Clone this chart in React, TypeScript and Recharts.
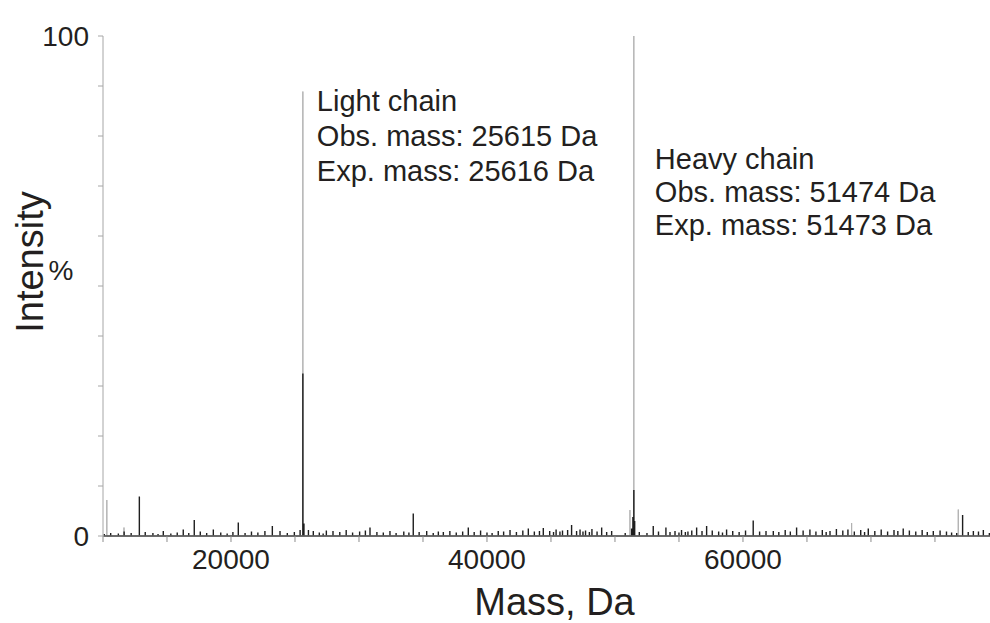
import React from 'react';
import { LineChart, Line, XAxis, YAxis, ReferenceDot, Label } from 'recharts';

// axis ticks (Da and %)
const xTicks = [10000, 15000, 20000, 25000, 30000, 35000, 40000, 45000, 50000, 55000, 60000, 65000, 70000, 75000];
const xTickLabels = [20000, 40000, 60000];
const yTicks = [0, 10, 20, 30, 40, 50, 60, 70, 80, 90, 100];
const yTickLabels = [0, 100];

// light grey sticks of the deconvoluted spectrum: [mass, intensity %]
const greyPeaks: [number, number][] = [
  [10300, 7.2],
  [11640, 1.7],
  [25615, 88.9],
  [51170, 5.2],
  [51474, 100],
  [68490, 2.6],
  [76820, 5.3],
];

// dark trace: baseline noise and the dense part of each peak
const blackPeaks: [number, number][] = [
  [10100, 0.4], [10600, 0.6], [11200, 0.5], [11650, 0.9], [12200, 0.6], [12840, 7.9],
  [13300, 0.8], [13900, 0.6], [14300, 0.4], [14710, 1.0], [15300, 0.5], [15800, 0.7],
  [16270, 1.3], [16700, 0.6], [17130, 3.2], [17600, 0.9], [18100, 0.6], [18620, 1.3],
  [19200, 0.7], [19700, 0.5], [20150, 0.8], [20570, 2.7], [21100, 0.6], [21600, 0.9],
  [22100, 0.7], [22650, 1.0], [23230, 2.0], [23830, 1.0], [24400, 0.6], [24950, 0.8],
  [25400, 1.2], [25615, 32.5], [25700, 2.5], [26050, 1.2], [26430, 1.0], [26900, 0.7],
  [27200, 0.5], [27450, 1.1], [27970, 1.0], [28500, 0.8], [29000, 1.2], [29500, 0.7],
  [30050, 0.9], [30500, 1.1], [30860, 1.7], [31400, 0.8], [31900, 0.7], [32420, 1.0],
  [32900, 0.6], [33500, 0.9], [33900, 0.7], [34240, 4.5], [34700, 0.8], [35290, 1.0],
  [35800, 0.6], [36200, 0.9], [36590, 0.8], [37100, 1.0], [37600, 0.7], [38100, 0.9],
  [38540, 1.7], [39000, 0.8], [39500, 1.1], [40000, 0.7], [40400, 0.6], [40880, 1.0],
  [41300, 0.9], [41800, 1.2], [42300, 0.8], [42800, 1.1], [43230, 1.5], [43700, 0.9],
  [44100, 1.0], [44400, 1.6], [44900, 1.0], [45200, 0.8], [45400, 1.3], [45700, 0.9],
  [45900, 1.1], [46300, 1.2], [46610, 2.2], [47000, 1.0], [47270, 1.3], [47500, 0.9],
  [47700, 1.1], [48000, 0.8], [48200, 1.4], [48600, 0.9], [48960, 1.7], [49350, 0.8],
  [49740, 1.0], [50800, 0.6], [51300, 1.5], [51400, 3.8], [51474, 9.2], [51540, 3.0],
  [51900, 0.8], [52500, 0.6], [52990, 2.0], [53400, 0.9], [53980, 1.7], [54300, 0.8],
  [54690, 1.0], [55000, 0.7], [55200, 1.2], [55500, 0.8], [55700, 0.9], [56000, 1.1],
  [56380, 1.7], [56800, 1.0], [57160, 2.0], [57600, 1.1], [58100, 0.9], [58400, 0.7],
  [58720, 1.3], [59200, 1.0], [59700, 0.8], [60200, 1.1], [60800, 3.1], [61300, 0.9],
  [61800, 1.0], [62370, 1.0], [62800, 0.8], [63300, 1.2], [63700, 0.9], [64190, 1.7],
  [64700, 1.1], [65230, 1.3], [65700, 0.9], [66200, 1.2], [66500, 0.8], [66800, 1.0],
  [67300, 1.4], [67800, 1.1], [68200, 1.3], [68700, 0.9], [69200, 1.2], [69500, 0.8],
  [69790, 1.5], [70300, 1.0], [70800, 1.3], [71300, 0.9], [71800, 1.2], [72100, 1.0],
  [72520, 1.5], [73000, 1.1], [73500, 0.9], [74000, 1.2], [74400, 0.8], [74870, 1.0],
  [75400, 1.1], [75900, 0.9], [76300, 0.7], [76700, 0.6], [77160, 4.2], [77600, 0.8],
  [78000, 1.0], [78400, 0.9], [78780, 1.2], [79250, 0.6],
];

const lightChainPeak = { mass: 25615, intensity: 88.9 };
const heavyChainPeak = { mass: 51474, intensity: 100 };
const lightChainText = ['Light chain', 'Obs. mass: 25615 Da', 'Exp. mass: 25616 Da'];
const heavyChainText = ['Heavy chain', 'Obs. mass: 51474 Da', 'Exp. mass: 51473 Da'];

const FONT = '"Liberation Sans", Arial, Helvetica, sans-serif';
const INK = '#231f20';

// each peak is drawn as a stick: baseline -> top -> baseline
const toSticks = (peaks: [number, number][]) =>
  peaks.flatMap(([mass, intensity]) => [
    { mass, intensity: 0 },
    { mass, intensity },
    { mass, intensity: 0 },
  ]);

const greyData = toSticks(greyPeaks);
const blackData = toSticks(blackPeaks);

const PeakNote = (props: any) => {
  const { viewBox, lines, dx, dy, lineHeight } = props;
  const cx = viewBox.x + viewBox.width / 2;
  const cy = viewBox.y + viewBox.height / 2;
  return (
    <text x={cx + dx} y={cy + dy} fill={INK} fontSize={29} fontFamily={FONT}>
      {lines.map((t: string, i: number) => (
        <tspan key={i} x={cx + dx} dy={i === 0 ? 0 : lineHeight}>
          {t}
        </tspan>
      ))}
    </text>
  );
};

const YTitle = (props: any) => {
  const { viewBox } = props;
  const x = viewBox.x;
  const y = viewBox.y;
  return (
    <g fill={INK} fontFamily={FONT}>
      <text
        x={x + 43}
        y={y + 226}
        fontSize={38}
        textAnchor="middle"
        transform={`rotate(-90, ${x + 43}, ${y + 226})`}
      >
        Intensity
      </text>
      <text x={x + 61} y={y + 244} fontSize={28} textAnchor="middle">
        %
      </text>
    </g>
  );
};

const XTitle = (props: any) => {
  const { viewBox } = props;
  return (
    <text
      x={viewBox.x + viewBox.width / 2 + 8}
      y={viewBox.y + 79}
      fill={INK}
      fontSize={38}
      fontFamily={FONT}
      textAnchor="middle"
    >
      Mass, Da
    </text>
  );
};

const App: React.FC = () => {
  return (
    <div style={{ position: 'absolute', left: 0, top: 0, background: '#ffffff' }}>
      <LineChart
        width={990}
        height={623}
        margin={{ top: 36, right: 0, bottom: 0, left: 0 }}
        style={{ fontFamily: FONT }}
      >
        <XAxis
          type="number"
          dataKey="mass"
          domain={[10000, 79300]}
          ticks={xTicks}
          interval={0}
          height={87}
          tickSize={6}
          tickMargin={7}
          stroke="#8c8c8c"
          tick={{ fill: INK, fontSize: 28, fontFamily: FONT }}
          tickFormatter={(v: number) => (xTickLabels.includes(v) ? String(v) : '')}
        >
          <Label content={<XTitle />} />
        </XAxis>
        <YAxis
          type="number"
          dataKey="intensity"
          domain={[0, 100]}
          ticks={yTicks}
          interval={0}
          width={103}
          tickSize={5}
          tickMargin={9}
          stroke="#a6a6a6"
          tick={{ fill: INK, fontSize: 28, fontFamily: FONT }}
          tickFormatter={(v: number) => (yTickLabels.includes(v) ? String(v) : '')}
        >
          <Label content={<YTitle />} />
        </YAxis>
        <Line
          data={greyData}
          dataKey="intensity"
          type="linear"
          stroke="#b0b0b0"
          strokeWidth={1}
          dot={false}
          activeDot={false}
          isAnimationActive={false}
        />
        <Line
          data={blackData}
          dataKey="intensity"
          type="linear"
          stroke="#1e1e1e"
          strokeWidth={1.4}
          dot={false}
          activeDot={false}
          isAnimationActive={false}
        />
        <ReferenceDot
          x={lightChainPeak.mass}
          y={lightChainPeak.intensity}
          r={1}
          fill="none"
          stroke="none"
          label={<PeakNote lines={lightChainText} dx={14} dy={19} lineHeight={35} />}
        />
        <ReferenceDot
          x={heavyChainPeak.mass}
          y={heavyChainPeak.intensity}
          r={1}
          fill="none"
          stroke="none"
          label={<PeakNote lines={heavyChainText} dx={21} dy={133} lineHeight={33} />}
        />
      </LineChart>
    </div>
  );
};

export default App;
